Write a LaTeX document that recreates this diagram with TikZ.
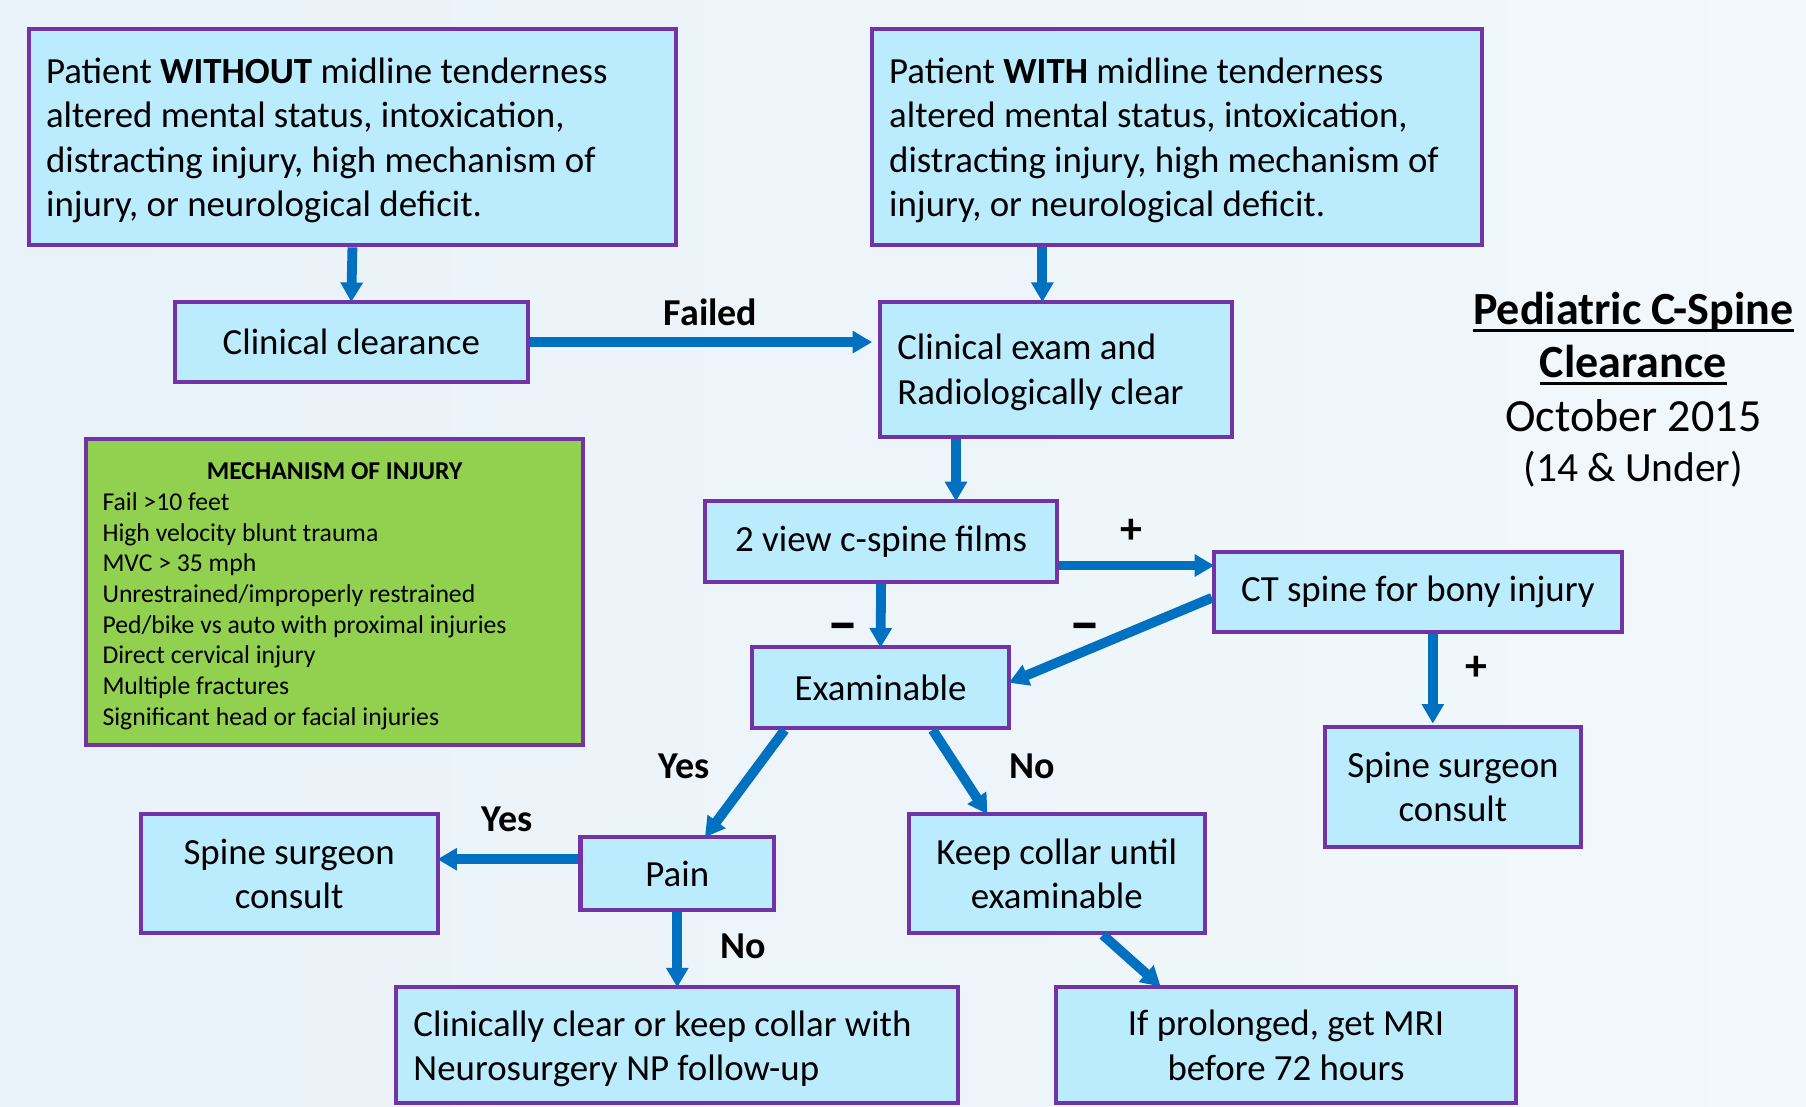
\documentclass[tikz,border=0pt]{standalone}
\usepackage{fontspec}
\setmainfont{Carlito}
\usetikzlibrary{arrows.meta}
\usetikzlibrary{positioning}

\definecolor{boxfill}{RGB}{187,236,253}
\definecolor{boxline}{RGB}{114,50,168}
\definecolor{flowblue}{RGB}{0,112,192}
\definecolor{mechgreen}{RGB}{146,208,80}
\definecolor{bgleft}{RGB}{233,242,249}
\definecolor{bgright}{RGB}{242,248,251}

\tikzset{
  box/.style={draw=boxline, fill=boxfill, line width=3.5pt, inner sep=0pt,
    font=\fontsize{32}{38.5}\selectfont, align=center},
  leftbox/.style={box, align=flush left, inner xsep=15pt,
    execute at begin node={\rule{0pt}{28pt}}},
  flow/.style={draw=flowblue, line width=8.5pt,
    -{Triangle[length=17pt,width=18.5pt]}, shorten >=-2pt},
  lbl/.style={font=\fontsize{33}{38}\bfseries\selectfont, inner sep=0pt},
  sign/.style={font=\fontsize{38}{40}\bfseries\selectfont, inner sep=0pt},
  minussign/.style={font=\fontsize{54}{56}\bfseries\selectfont, inner sep=0pt},
  heading/.style={inner sep=0pt, font=\fontsize{40}{44}\bfseries\selectfont}
}

\begin{document}
\begin{tikzpicture}[x=1pt,y=-1pt]
\useasboundingbox (0,0) rectangle (1568,961);
\shade[left color=bgleft, right color=bgright] (0,0) rectangle (1568,961);

% top row
\node[leftbox, text width=532pt, minimum height=188pt] (without) at (306,119)
  {Patient \textbf{WITHOUT} midline tenderness\\altered mental status, intoxication,\\distracting injury, high mechanism of\\injury, or neurological deficit.};
\node[leftbox, text width=500pt, minimum height=188pt] (with) at (1022,119)
  {Patient \textbf{WITH} midline tenderness\\altered mental status, intoxication,\\distracting injury, high mechanism of\\injury, or neurological deficit.};

\node[box, minimum width=306pt, minimum height=70pt] (clear) at (305,297) {Clinical clearance};
\node[leftbox, text width=276pt, minimum height=117pt] (radio) at (917,320.5)
  {Clinical exam and\\Radiologically clear};

% mechanism list
\node[draw=boxline, fill=mechgreen, line width=3.5pt, inner xsep=14pt, inner ysep=0pt,
  text width=403pt, minimum height=266pt, align=flush left,
  font=\fontsize{22.3}{26.6}\selectfont,
  execute at begin node={\rule{0pt}{22pt}}] (mech) at (290.5,514)
  {\makebox[\linewidth]{\bfseries MECHANISM OF INJURY}\\
   Fail >10 feet\\
   High velocity blunt trauma\\
   MVC > 35 mph\\
   Unrestrained/improperly restrained\\
   Ped/bike vs auto with proximal injuries\\
   Direct cervical injury\\
   Multiple fractures\\
   Significant head or facial injuries};

% title
\node[heading] (title1) at (1418,271) {Pediatric C-Spine};
\node[heading] (title2) at (1418,314) {Clearance};
\node[heading, font=\fontsize{40}{44}\selectfont] (title3) at (1418,361) {October 2015};
\node[heading, font=\fontsize{36}{44}\selectfont] (title4) at (1418,407) {(14 \& Under)};
\draw[line width=2.5pt] ([yshift=-5pt]title1.base west) -- ([yshift=-5pt]title1.base east);
\draw[line width=2.5pt] ([yshift=-5pt]title2.base west) -- ([yshift=-5pt]title2.base east);

% middle
\node[box, minimum width=306pt, minimum height=70pt] (films) at (765,470) {2 view c-spine films};
\node[box, minimum width=354pt, minimum height=70pt] (ct) at (1231,514) {CT spine for bony injury};
\node[box, minimum width=223pt, minimum height=70pt] (examin) at (764.5,597) {Examinable};
\node[box, minimum width=223pt, minimum height=104pt] (surgR) at (1261.5,683) {Spine surgeon\\consult};

% bottom
\node[box, minimum width=258pt, minimum height=103pt] (surgL) at (251,758.5) {Spine surgeon\\consult};
\node[box, minimum width=168pt, minimum height=63pt] (pain) at (588,758.5) {Pain};
\node[box, minimum width=257pt, minimum height=103pt] (keep) at (917.5,758.5) {Keep collar until\\examinable};
\node[leftbox, text width=458pt, minimum height=101pt] (followup) at (588,907.5)
  {Clinically clear or keep collar with\\Neurosurgery NP follow-up};
\node[box, minimum width=399pt, minimum height=101pt] (mri) at (1116.5,907.5)
  {If prolonged, get MRI\\before 72 hours};

% connectors
\draw[flow] (without.south) -- (clear.north);
\draw[flow, shorten >=5pt] (clear.east) -- (clear.east -| radio.west);
\draw[flow] ([xshift=-117pt]with.south) -- ([xshift=-117pt]with.south |- radio.north);
\draw[flow] ([xshift=-87pt]radio.south) -- ([xshift=-87pt]radio.south |- films.north);
\draw[flow] ([yshift=-21pt]films.east) -- ([yshift=-21pt]films.east -| ct.west);
\draw[flow] (films.south) -- (examin.north);
\draw[flow] ([yshift=-5pt]ct.west) -- ([yshift=5pt]examin.east);
\draw[flow, shorten >=1pt] ([xshift=13pt]ct.south) -- ([xshift=13pt]ct.south |- surgR.north);
\draw[flow] ([xshift=30pt]examin.south west) -- ([xshift=111pt]pain.north west);
\draw[flow] ([xshift=-68pt]examin.south east) -- ([xshift=69pt]keep.north west);
\draw[flow] ([yshift=12.5pt]pain.west) -- ([yshift=12.5pt]pain.west -| surgL.east);
\draw[flow] (pain.south) -- (followup.north);
\draw[flow] ([xshift=40pt]keep.south) -- ([xshift=91pt]mri.north west);

% labels
\node[lbl] (failed) at (617,271) {Failed};
\node[sign] (plusA) at (982,461) {+};
\node[minussign] (minusA) at (732,550) {–};
\node[minussign] (minusB) at (942,550) {–};
\node[sign] (plusB) at (1282,580) {+};
\node[lbl] (yesA) at (594,665) {Yes};
\node[lbl] (noA) at (896,665) {No};
\node[lbl] (yesB) at (440,711) {Yes};
\node[lbl] (noB) at (645,822) {No};
\end{tikzpicture}
\end{document}
